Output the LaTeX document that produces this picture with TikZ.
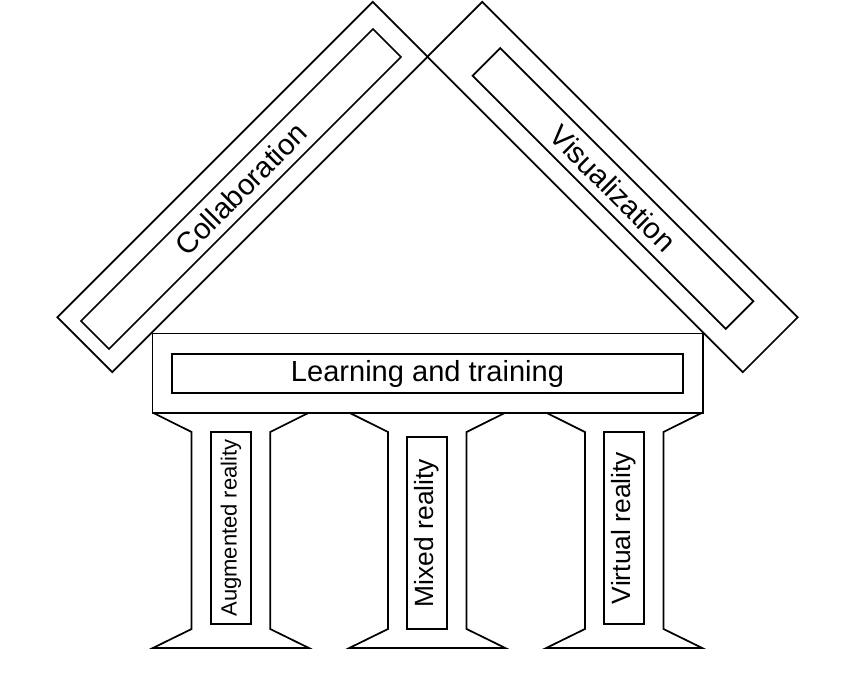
\documentclass[tikz,border=0pt]{standalone}
\usepackage{fontspec}
\setmainfont{Liberation Sans}
\begin{document}
\begin{tikzpicture}[x=0.75pt,y=-0.75pt, line width=1.3pt, line join=miter,
  box/.style={draw, inner sep=0pt, outer sep=0pt},
  rooftext/.style={font=\fontsize{22}{26}\selectfont},
  basetext/.style={font=\fontsize{19.8}{24}\selectfont},
  platformtext/.style={font=\fontsize{21.8}{26}\selectfont},
  pillarline/.style={draw, line join=miter}
]
\useasboundingbox (0,0) rectangle (850,679);

% roof: collaboration
\node[box, rotate=45, minimum width=334.6pt, minimum height=58.3pt] (collabOuter) at (242.5,187) {};
\node[box, rotate=45, minimum width=309.7pt, minimum height=29.7pt, rooftext] (collab) at (241,189) {Collaboration};

% roof: visualization
\node[box, rotate=-45, minimum width=334.6pt, minimum height=58.3pt] (visOuter) at (612.5,187) {};
\node[box, rotate=-45, minimum width=268.5pt, minimum height=29.2pt, rooftext] (vis) at (613,188.5) {Visualization};

% platform
\node[box, minimum width=412.7pt, minimum height=59.4pt] (platform) at (427.7,373.1) {};
\node[box, minimum width=383.7pt, minimum height=29.4pt, platformtext] (learning) at (427.5,373.6) {Learning and training};

% pillars
\foreach \cx in {230.9,427.3,624.2} {
  \draw[pillarline] ({\cx-78},412.7) -- ({\cx-39.3},432) -- ({\cx-39.3},629) -- ({\cx-78},648)
    -- ({\cx+78},648) -- ({\cx+39.3},629) -- ({\cx+39.3},432) -- ({\cx+78},412.7);
}

\node[box, rotate=90, minimum width=144pt, minimum height=29.8pt, font=\fontsize{16.5}{20}\selectfont] (ar) at (230.9,528) {Augmented reality};
\node[box, rotate=90, minimum width=144pt, minimum height=30pt, basetext] (mr) at (427,533) {Mixed reality};
\node[box, rotate=90, minimum width=144pt, minimum height=30pt, basetext] (vr) at (624,528) {Virtual reality};
\end{tikzpicture}
\end{document}
